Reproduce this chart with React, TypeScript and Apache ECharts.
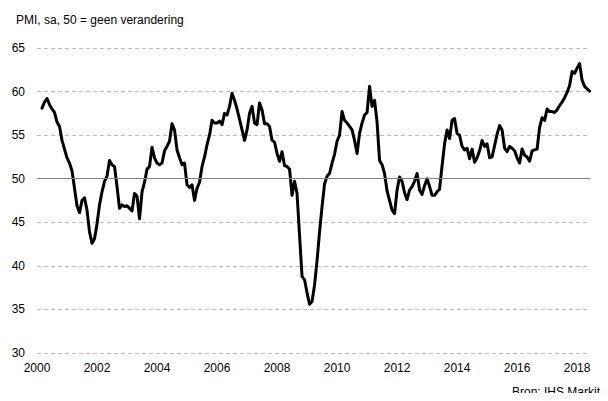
import React, { useEffect, useRef } from "react";
import * as echarts from "echarts";

// Monthly PMI values, first value = March 2000
const startYear = 2000;
const startMonth = 3;
const y2000 = [58.1, 58.8, 59.2, 58.5, 58.0, 57.6, 56.5, 56.0, 54.4, 53.4];
const y2001 = [52.4, 51.8, 50.9, 48.9, 46.9, 46.1, 47.5, 47.8, 46.4, 43.9, 42.6, 43.1];
const y2002 = [44.8, 47.0, 48.5, 49.7, 50.3, 52.1, 51.6, 51.4, 49.1, 46.6, 47.0, 46.8];
const y2003 = [46.9, 46.6, 46.3, 48.3, 48.0, 45.4, 48.5, 49.6, 51.1, 51.4, 53.6, 52.4];
const y2004 = [51.8, 51.6, 51.8, 53.2, 53.7, 54.3, 56.3, 55.6, 53.3, 52.4, 51.6, 51.8];
const y2005 = [49.3, 49.0, 49.3, 47.5, 48.9, 49.6, 51.4, 52.5, 53.9, 55.0, 56.7, 56.4];
const y2006 = [56.4, 56.6, 56.2, 57.5, 57.3, 58.3, 59.8, 59.0, 58.0, 56.8, 55.6, 54.4];
const y2007 = [55.6, 57.5, 58.3, 56.4, 56.2, 58.7, 57.9, 56.3, 56.3, 56.0, 54.4, 54.2];
const y2008 = [52.9, 52.0, 53.1, 51.5, 51.4, 51.1, 48.1, 49.7, 48.3, 43.5, 38.8, 38.4];
const y2009 = [36.9, 35.6, 35.9, 37.8, 40.6, 43.9, 46.8, 49.4, 50.3, 50.6, 51.8, 52.8];
const y2010 = [54.3, 55.0, 57.7, 56.7, 56.4, 56.0, 55.6, 54.4, 52.9, 55.2, 56.4, 57.3];
const y2011 = [57.6, 60.6, 58.3, 59.0, 56.5, 52.1, 51.6, 50.6, 48.6, 47.5, 46.4, 46.0];
const y2012 = [48.7, 50.2, 49.7, 48.4, 47.6, 48.7, 49.1, 49.7, 50.6, 48.7, 48.2, 49.2];
const y2013 = [50.0, 49.1, 48.1, 48.1, 48.5, 48.8, 51.5, 54.0, 55.6, 54.6, 56.7, 56.9];
const y2014 = [55.2, 55.0, 53.7, 53.3, 53.5, 52.3, 53.4, 51.9, 52.4, 53.2, 54.4, 53.7];
const y2015 = [54.0, 52.4, 52.5, 53.8, 55.1, 56.1, 55.6, 53.5, 53.1, 53.7, 53.5, 53.2];
const y2016 = [52.4, 51.8, 53.4, 52.7, 52.5, 52.0, 53.2, 53.3, 53.4, 55.9, 57.0, 56.7];
const y2017 = [58.0, 57.7, 57.7, 57.6, 57.9, 58.4, 58.8, 59.3, 59.9, 60.7, 62.3, 62.1];
const y2018 = [62.7, 63.2, 61.3, 60.6, 60.3, 60.05];

const pmiValues = [
  ...y2000, ...y2001, ...y2002, ...y2003, ...y2004, ...y2005, ...y2006,
  ...y2007, ...y2008, ...y2009, ...y2010, ...y2011, ...y2012, ...y2013,
  ...y2014, ...y2015, ...y2016, ...y2017, ...y2018,
];

const yTicks = [30, 35, 40, 45, 50, 55, 60, 65];
const xTickYears = [2000, 2002, 2004, 2006, 2008, 2010, 2012, 2014, 2016, 2018];
const neutralLevel = 50;
const titleText = "PMI, sa, 50 = geen verandering";
const sourceText = "Bron: IHS Markit";

const FONT = "Liberation Sans, Arial, sans-serif";

export default function App() {
  const ref = useRef<HTMLDivElement>(null);

  useEffect(() => {
    if (!ref.current) return;
    const chart = echarts.init(ref.current, null, { renderer: "svg" });
    const points = pmiValues.map((v, i) => [
      startYear + (startMonth - 1 + i) / 12,
      v,
    ]);
    chart.setOption({
      animation: false,
      backgroundColor: "#ffffff",
      title: {
        text: titleText,
        left: 11,
        top: 9,
        textStyle: { fontFamily: FONT, fontSize: 12, fontWeight: "normal", color: "#000" },
      },
      graphic: [
        {
          type: "text",
          right: 8,
          top: 386,
          style: { text: sourceText, font: `12px ${FONT}`, fill: "#000" },
        },
      ],
      grid: { left: 37, right: 18, top: 48, bottom: 48 },
      xAxis: {
        type: "value",
        min: xTickYears[0],
        max: 2018.43,
        interval: 2,
        axisLine: { show: false },
        axisTick: { show: false },
        splitLine: { show: false },
        axisLabel: {
          margin: 9,
          fontFamily: FONT,
          fontSize: 12,
          color: "#000",
          showMaxLabel: false,
          formatter: (v: number) => (xTickYears.includes(Math.round(v)) && Math.abs(v - Math.round(v)) < 1e-6 ? String(Math.round(v)) : ""),
        },
      },
      yAxis: {
        type: "value",
        min: yTicks[0],
        max: yTicks[yTicks.length - 1],
        interval: 5,
        axisLine: { show: false },
        axisTick: { show: false },
        axisLabel: { margin: 12, fontFamily: FONT, fontSize: 12, color: "#000" },
        splitLine: {
          show: true,
          lineStyle: { color: "#bdbdbd", type: [4, 3], width: 1 },
        },
      },
      series: [
        {
          type: "line",
          data: [],
          z: 1,
          silent: true,
          markLine: {
            silent: true,
            symbol: ["none", "none"],
            label: { show: false },
            lineStyle: { color: "#7f7f7f", type: "solid", width: 1 },
            data: [{ yAxis: neutralLevel }],
          },
        },
        {
          type: "line",
          data: points,
          z: 3,
          showSymbol: false,
          symbol: "none",
          lineStyle: { color: "#000", width: 3, join: "round", cap: "round" },
        },
      ],
    });
    return () => chart.dispose();
  }, []);

  return <div ref={ref} style={{ width: 608, height: 401, margin: -8 }} />;
}
